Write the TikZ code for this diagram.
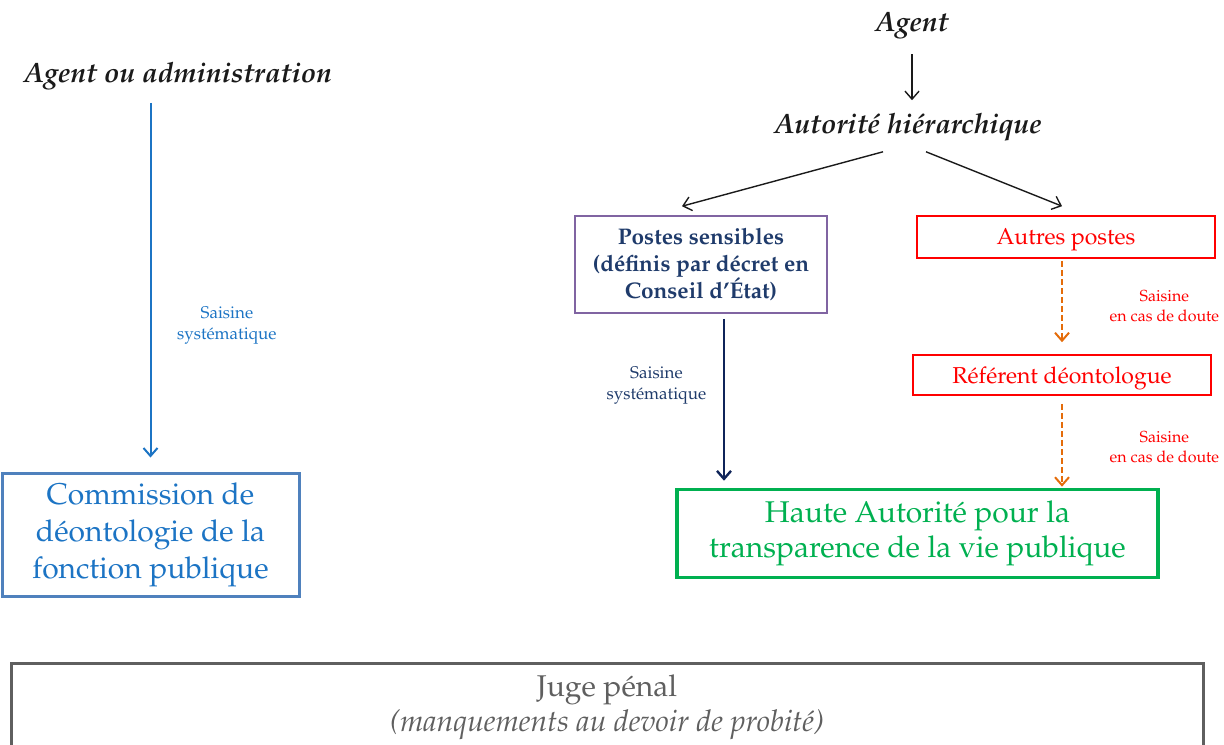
\documentclass[tikz,border=0pt]{standalone}
\usepackage[T1]{fontenc}
\usepackage{mathpazo}
\usetikzlibrary{arrows.meta,positioning}

\definecolor{cdblue}{HTML}{1C74C4}
\definecolor{cdframe}{HTML}{4F81BD}
\definecolor{psframe}{HTML}{8064A2}
\definecolor{psnavy}{HTML}{1F3B6B}
\definecolor{arnavy}{HTML}{0F2459}
\definecolor{hagreen}{HTML}{00B050}
\definecolor{doubt}{HTML}{E46C0A}
\definecolor{jgray}{HTML}{5F5F5F}
\definecolor{ink}{HTML}{1A1A1A}

\tikzset{
  head/.style={font=\fontsize{14}{16}\selectfont\bfseries\itshape, text=ink},
  lbl/.style={font=\fontsize{8.5}{10.5}\selectfont, align=center},
  redlbl/.style={font=\fontsize{8}{10}\selectfont, align=center, text=red},
  box/.style={draw, align=center, inner sep=0pt},
  doubtarrow/.style={->, doubt, line width=1pt, dash pattern=on 3pt off 1.5pt},
}

\begin{document}
\begin{tikzpicture}[x=0.5pt,y=-0.5pt,>={Straight Barb[length=4pt,width=7pt]}]
  \useasboundingbox (0,0) rectangle (1224,744);

  % left part
  \node[head] (aoa) at (178,76) {Agent ou administration};
  \node[box, draw=cdframe, line width=1.5pt, text=cdblue,
        minimum width=148.5pt, minimum height=61.5pt,
        font=\fontsize{15}{18.5}\selectfont] (cdfp) at (150.5,534.5)
        {Commission de\\d\'eontologie de la\\fonction publique};

  \draw[->, cdblue, line width=1pt, shorten <=3pt, shorten >=7pt]
    (aoa.south -| cdfp.north) -- node[pos=0.61, right=9.5pt, lbl]
    {Saisine\\syst\'ematique} (cdfp.north);

  % right part
  \node[head] (ag) at (912,26) {Agent};
  \node[head] (ah) at (908,127) {Autorit\'e hi\'erarchique};
  \node[box, draw=psframe, line width=0.8pt, text=psnavy,
        minimum width=126pt, minimum height=48.5pt,
        font=\fontsize{11.3}{13.5}\selectfont\bfseries] (ps) at (701,264.5)
        {Postes sensibles\\(d\'efinis par d\'ecret en\\Conseil d'\'Etat)};
  \node[box, draw=red, line width=0.8pt, text=red, text depth=0pt,
        minimum width=149pt, minimum height=21pt,
        font=\fontsize{11.5}{13.5}\selectfont] (ap) at (1066,237) {Autres postes};
  \node[box, draw=red, line width=0.8pt, text=red, text depth=0pt,
        minimum width=149pt, minimum height=20pt,
        font=\fontsize{11.5}{13.5}\selectfont] (rd) at (1062,375) {R\'ef\'erent d\'eontologue};
  \node[box, draw=hagreen, line width=1.8pt, text=hagreen,
        minimum width=240.5pt, minimum height=44pt,
        font=\fontsize{15}{17.5}\selectfont] (ha) at (917.5,533.5)
        {Haute Autorit\'e pour la\\transparence de la vie publique};

  \draw[->, ink, line width=0.7pt, shorten <=4pt, shorten >=3pt]
    (ag.south) -- (ag.south |- ah.north);
  \draw[->, ink, line width=0.7pt] ([xshift=-12.5pt,yshift=-2pt]ah.south)
    -- ([xshift=-9.5pt,yshift=4.5pt]ps.north);
  \draw[->, ink, line width=0.7pt] ([xshift=9pt,yshift=-2pt]ah.south)
    -- ([xshift=-2pt,yshift=4.5pt]ap.north);

  \draw[->, arnavy, line width=1.2pt, shorten <=2.5pt, shorten >=3.5pt]
    ([xshift=11.5pt]ps.south) -- node[pos=0.415, left=5pt, lbl, text=psnavy]
    {Saisine\\syst\'ematique} ([xshift=11.5pt]ps.south |- ha.north);

  \draw[doubtarrow, shorten <=1pt, shorten >=6pt]
    (rd.north |- ap.south) -- node[pos=0.5, right=20pt, redlbl]
    {Saisine\\en cas de doute} (rd.north);
  \draw[doubtarrow, shorten <=4pt, shorten >=0.5pt]
    (rd.south) -- node[pos=0.56, right=20pt, redlbl]
    {Saisine\\en cas de doute} (rd.south |- ha.north);

  % bottom
  \node[box, draw=jgray, line width=1.5pt, text=jgray,
        minimum width=596pt, minimum height=44.5pt,
        font=\fontsize{15}{17.5}\selectfont] (jp) at (607,707.5)
        {Juge p\'enal\\\textit{(manquements au devoir de probit\'e)}};
\end{tikzpicture}
\end{document}
